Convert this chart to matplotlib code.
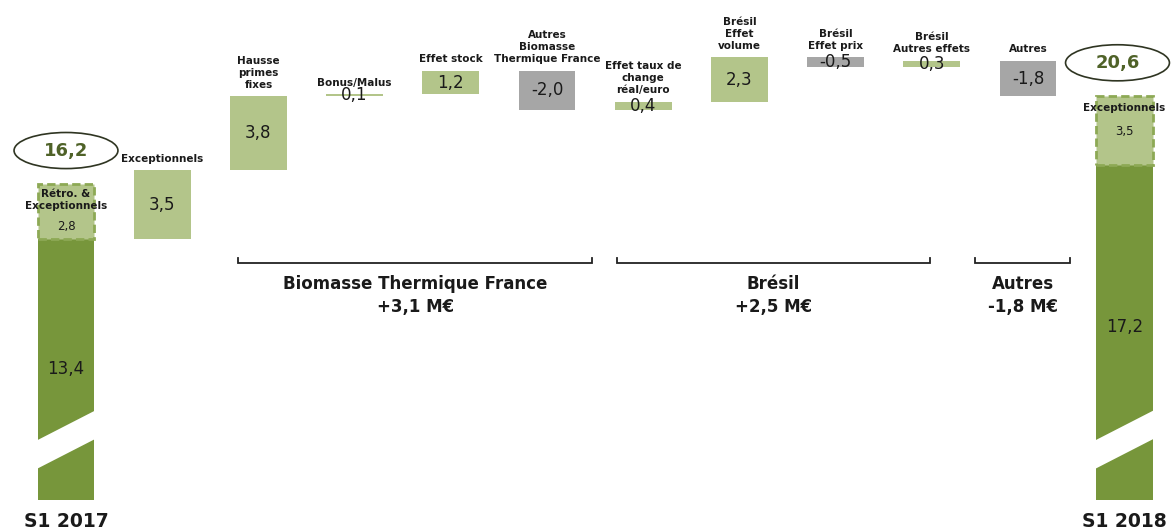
import matplotlib
matplotlib.use("Agg")
import matplotlib.pyplot as plt
from matplotlib.patches import Ellipse, Polygon

# ---------------- data ----------------
categories = ["S1 2017", "Exceptionnels", "Hausse\nprimes\nfixes", "Bonus/Malus",
              "Effet stock", "Autres\nBiomasse\nThermique France",
              "Effet taux de\nchange\nréal/euro", "Brésil\nEffet\nvolume",
              "Brésil\nEffet prix", "Brésil\nAutres effets", "Autres", "S1 2018"]
deltas = [3.5, 3.8, 0.1, 1.2, -2.0, 0.4, 2.3, -0.5, 0.3, -1.8]

base_2017 = 13.4
exc_2017 = 2.8
total_2017 = 16.2
exc_label_2017 = "Rétro. &\nExceptionnels"

base_2018 = 17.2
exc_2018 = 3.5
total_2018 = 20.6
exc_label_2018 = "Exceptionnels"

group_labels = ["Biomasse Thermique France\n+3,1 M€", "Brésil\n+2,5 M€", "Autres\n-1,8 M€"]
group_spans = [(1.79, 5.47), (5.73, 8.98), (9.45, 10.44)]

# ---------------- style ----------------
LIGHT = "#B3C58A"
DARK = "#77963B"
GREY = "#A6A6A6"
DASH = "#8DA955"
OLIVE = "#4F6228"
TXT = "#1A1A1A"
W = 0.59

def fmt(v):
    return f"{v:.1f}".replace(".", ",")

fig = plt.figure(figsize=(11.73, 5.30), dpi=100)
ax = fig.add_axes([0, 0, 1, 1])
ax.set_xlim(-0.686, 11.507)
ax.set_ylim(-1.54, 25.64)
ax.axis("off")

n = len(categories)
x_first, x_last = 0, n - 1

# ---- S1 2017 ----
ax.bar(x_first, base_2017, W, color=DARK, zorder=2)
ax.bar(x_first, exc_2017, W, bottom=base_2017, color=LIGHT, edgecolor=DASH,
       linestyle=(0, (3, 1.5)), linewidth=2, zorder=3)
# ---- S1 2018 ----
ax.bar(x_last, base_2018, W, color=DARK, zorder=2)
ax.bar(x_last, exc_2018, W, bottom=base_2018, color=LIGHT, edgecolor=DASH,
       linestyle=(0, (3, 1.5)), linewidth=2, zorder=3)

# break marks
for xc in (x_first, x_last):
    dx = 0.36
    s = 2.53
    lo, hi = 2.36, 3.82
    poly = Polygon([(xc - dx, lo - s * dx), (xc + dx, lo + s * dx),
                    (xc + dx, hi + s * dx), (xc - dx, hi - s * dx)],
                   closed=True, facecolor="white", edgecolor="none", zorder=4)
    ax.add_patch(poly)

# value texts in total bars
ax.text(x_first, base_2017 / 2, fmt(base_2017), ha="center", va="center",
        fontsize=12, color=TXT, zorder=5)
ax.text(x_last, base_2018 / 2 + 0.25, fmt(base_2018), ha="center", va="center",
        fontsize=12, color=TXT, zorder=5)

top17 = base_2017 + exc_2017
ax.text(x_first, top17 - 0.25, exc_label_2017, ha="center", va="top",
        fontsize=7.5, fontweight="bold", color=TXT, linespacing=1.2, zorder=5)
ax.text(x_first, top17 - 2.2, fmt(exc_2017), ha="center", va="center",
        fontsize=8.5, color=TXT, zorder=5)

top18 = base_2018 + exc_2018
ax.text(x_last, top18 - 0.35, exc_label_2018, ha="center", va="top",
        fontsize=7.5, fontweight="bold", color=TXT, zorder=5)
ax.text(x_last, top18 - 1.8, fmt(exc_2018), ha="center", va="center",
        fontsize=8.5, color=TXT, zorder=5)

# ellipses with totals
for xc, top, tot in ((x_first, top17, total_2017), (x_last - 0.07, top18, total_2018)):
    e = Ellipse((xc, top + 1.72), 1.08, 1.85, facecolor="white",
                edgecolor="#2F3522", linewidth=1.2, zorder=5)
    ax.add_patch(e)
    ax.text(xc, top + 1.72, fmt(tot), ha="center", va="center", fontsize=13,
            fontweight="bold", color=OLIVE, zorder=6)

# ---- waterfall deltas ----
level = base_2017
for i, d in enumerate(deltas):
    x = i + 1
    start = level
    end = level + d
    bottom = min(start, end)
    color = LIGHT if d >= 0 else GREY
    ax.bar(x, abs(d), W, bottom=bottom, color=color, zorder=2)
    ax.text(x, bottom + abs(d) / 2, fmt(d), ha="center", va="center",
            fontsize=12, color=TXT, zorder=5)
    ax.text(x, max(start, end) + 0.35, categories[x], ha="center", va="bottom",
            fontsize=7.5, fontweight="bold", color=TXT, linespacing=1.25, zorder=5)
    level = end

# ---- category labels of totals ----
ax.text(x_first, -1.1, categories[x_first], ha="center", va="center",
        fontsize=13.5, fontweight="bold", color=TXT)
ax.text(x_last, -1.1, categories[x_last], ha="center", va="center",
        fontsize=13.5, fontweight="bold", color=TXT)

# ---- group brackets ----
yb = 12.15
for (a, b), lab in zip(group_spans, group_labels):
    ax.plot([a, a, b, b], [yb + 0.28, yb, yb, yb + 0.28], color="#222222",
            linewidth=1.3, solid_joinstyle="miter", zorder=3)
    ax.text((a + b) / 2, yb - 0.6, lab, ha="center", va="top", fontsize=12,
            fontweight="bold", color=TXT, linespacing=1.4)

fig.savefig("out.png", dpi=100, facecolor="white")
